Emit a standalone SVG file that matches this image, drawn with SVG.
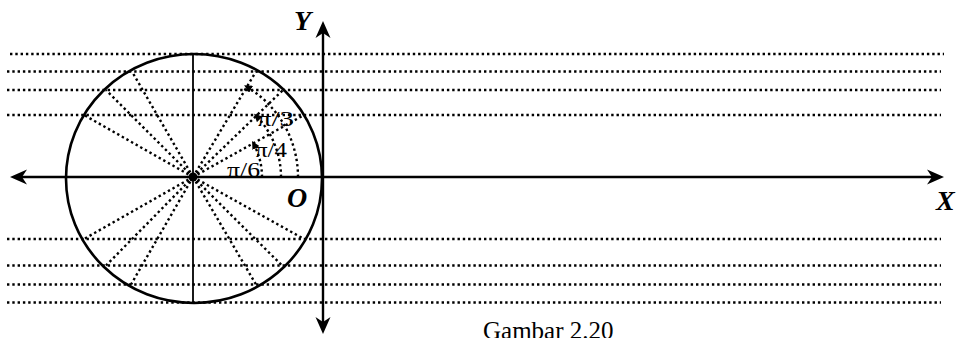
<svg xmlns="http://www.w3.org/2000/svg" width="963" height="338" viewBox="0 0 963 338">
<style>
.dot{fill:none;stroke:#000;stroke-width:2.4;stroke-dasharray:2.4 2.9}
.ax{stroke:#000;stroke-width:2.4;fill:none}
.ah{fill:#000}
.lbl{font-family:"Liberation Serif","Times New Roman",serif;font-weight:bold;font-style:italic;font-size:28px;fill:#000}
.ang{font-family:"Liberation Serif","Times New Roman",serif;font-size:20px;fill:#000}
.cap{font-family:"Liberation Serif","Times New Roman",serif;font-size:25px;fill:#000}
</style>
<defs>
<marker id="sm" viewBox="0 0 10 10" refX="8" refY="5" markerWidth="8" markerHeight="8" markerUnits="userSpaceOnUse" orient="auto">
<path d="M0,0 L10,5 L0,10 Z" fill="#000"/>
</marker>
</defs>
<rect width="963" height="338" fill="#fff"/>
<g id="gridlines">
<line class="dot" x1="10" y1="54" x2="944" y2="54"/>
<line class="dot" x1="7" y1="71.5" x2="941" y2="71.5"/>
<line class="dot" x1="7" y1="90" x2="941" y2="90"/>
<line class="dot" x1="7" y1="115" x2="941" y2="115"/>
<line class="dot" x1="7" y1="239" x2="941" y2="239"/>
<line class="dot" x1="7" y1="265.5" x2="941" y2="265.5"/>
<line class="dot" x1="7" y1="284.5" x2="941" y2="284.5"/>
<line class="dot" x1="7" y1="302.5" x2="941" y2="302.5"/>
</g>
<g id="circle">
<ellipse cx="194" cy="178.5" rx="128" ry="124.5" fill="none" stroke="#000" stroke-width="2.6"/>
<line x1="193" y1="54" x2="193" y2="303" stroke="#000" stroke-width="1.8"/>
</g>
<g id="connectors">
<line class="dot" x1="193" y1="177" x2="304" y2="115"/>
<line class="dot" x1="193" y1="177" x2="283" y2="90"/>
<line class="dot" x1="193" y1="177" x2="256" y2="71.5"/>
<line class="dot" x1="193" y1="177" x2="132" y2="71.5"/>
<line class="dot" x1="193" y1="177" x2="106" y2="90"/>
<line class="dot" x1="193" y1="177" x2="84" y2="115"/>
<line class="dot" x1="193" y1="177" x2="84" y2="239"/>
<line class="dot" x1="193" y1="177" x2="106" y2="265.5"/>
<line class="dot" x1="193" y1="177" x2="131" y2="284.5"/>
<line class="dot" x1="193" y1="177" x2="304" y2="239"/>
<line class="dot" x1="193" y1="177" x2="282" y2="265.5"/>
<line class="dot" x1="193" y1="177" x2="256" y2="284.5"/>
<path class="dot" d="M262,177 A69,69 0 0 0 252.8,142.5" marker-end="url(#sm)"/>
<path class="dot" d="M281,177 A88,88 0 0 0 255.2,114.8" marker-end="url(#sm)"/>
<path class="dot" d="M298,177 A105,105 0 0 0 245.5,86.1" marker-end="url(#sm)"/>
</g>
<g id="axes">
<line class="ax" x1="16" y1="177" x2="938" y2="177"/>
<path class="ah" d="M10,177 L27,169.5 L22,177 L27,184.5 Z"/>
<path class="ah" d="M944,177 L927,169.5 L932,177 L927,184.5 Z"/>
<line class="ax" x1="323" y1="27" x2="323" y2="328"/>
<path class="ah" d="M323,21 L315.5,38 L323,33 L330.5,38 Z"/>
<path class="ah" d="M323,334 L315.5,317 L323,322 L330.5,317 Z"/>
<circle cx="193" cy="177" r="4.5" fill="#000"/>
</g>
<g id="labels">
<text class="lbl" x="294" y="30">Y</text>
<text class="lbl" x="287" y="207">O</text>
<text class="lbl" x="936" y="210">X</text>
<text class="ang" x="257" y="126" textLength="37" lengthAdjust="spacingAndGlyphs">π/3</text>
<text class="ang" x="255" y="157" textLength="32" lengthAdjust="spacingAndGlyphs">π/4</text>
<text class="ang" x="227" y="177" textLength="33" lengthAdjust="spacingAndGlyphs">π/6</text>
<text class="cap" x="483" y="339">Gambar 2.20</text>
</g>
</svg>
